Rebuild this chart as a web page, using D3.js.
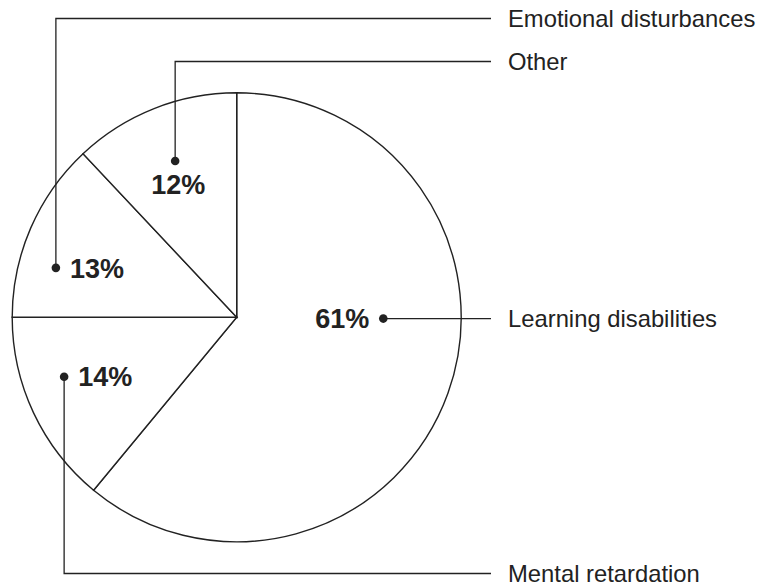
<!DOCTYPE html>
<html>
<head>
<meta charset="utf-8">
<script src="https://cdn.jsdelivr.net/npm/d3@7"></script>
<style>
  html, body { margin: 0; padding: 0; background: #fff; }
  svg { display: block; }
</style>
</head>
<body>
<svg id="chart" width="759" height="584"></svg>
<script>
// ---- data ----
const categories = ["Learning disabilities", "Mental retardation", "Emotional disturbances", "Other"];
const values = [61, 14, 13, 12];
const valueLabels = ["61%", "14%", "13%", "12%"];

// ---- layout (annotation placement) ----
const W = 759, H = 584;
const cx = 236.7, cy = 317.3, R = 224.5;
const ink = "#222";
// dot placement in polar terms (degrees clockwise from 12 o'clock, fraction of radius)
const annot = [
  { angle: 90.5,  rf: 0.653, text: "left",  route: "right" },
  { angle: 251.0, rf: 0.813, text: "right", route: "down", y: 573.5 },
  { angle: 285.3, rf: 0.835, text: "right", route: "up",   y: 18.5 },
  { angle: 338.5, rf: 0.748, text: "below", route: "up",   y: 61.5 }
];
const leaderEndX = 491;
const labelX = 508;

const svg = d3.select("#chart");
const g = svg.append("g").attr("transform", `translate(${cx},${cy})`);

const pie = d3.pie().sort(null).value(d => d)(values);
const arc = d3.arc().innerRadius(0).outerRadius(R);

g.selectAll("path.slice")
  .data(pie)
  .join("path")
  .attr("class", "slice")
  .attr("d", arc)
  .attr("fill", "#fff")
  .attr("stroke", ink)
  .attr("stroke-width", 1.4)
  .attr("stroke-linejoin", "miter");

const ann = svg.append("g");
pie.forEach((p, i) => {
  const a = annot[i];
  const [dx, dy] = d3.pointRadial(a.angle * Math.PI / 180, a.rf * R);
  const x = cx + dx, y = cy + dy;
  let pts;
  if (a.route === "right") pts = [[x, y], [leaderEndX, y]];
  else pts = [[x, y], [x, a.y], [leaderEndX, a.y]];
  ann.append("path")
    .attr("d", d3.line()(pts))
    .attr("fill", "none")
    .attr("stroke", ink)
    .attr("stroke-width", 1.3);
  ann.append("circle")
    .attr("cx", x).attr("cy", y).attr("r", 4.3)
    .attr("fill", ink);
  const ly = a.route === "right" ? y : a.y;
  ann.append("text")
    .attr("x", labelX).attr("y", ly)
    .attr("dy", "0.35em")
    .attr("font-family", "Liberation Sans, Arial, sans-serif")
    .attr("font-size", 23.8)
    .attr("fill", ink)
    .text(categories[i]);
  const t = ann.append("text")
    .attr("font-family", "Liberation Sans, Arial, sans-serif")
    .attr("font-size", 27)
    .attr("font-weight", "bold")
    .attr("fill", ink)
    .text(valueLabels[i]);
  if (a.text === "left") {
    t.attr("x", x - 14).attr("y", y).attr("dy", "0.36em").attr("text-anchor", "end");
  } else if (a.text === "right") {
    t.attr("x", x + 14).attr("y", y).attr("dy", "0.36em").attr("text-anchor", "start");
  } else {
    t.attr("x", x + 3).attr("y", y + 33).attr("text-anchor", "middle");
  }
});
</script>
</body>
</html>
